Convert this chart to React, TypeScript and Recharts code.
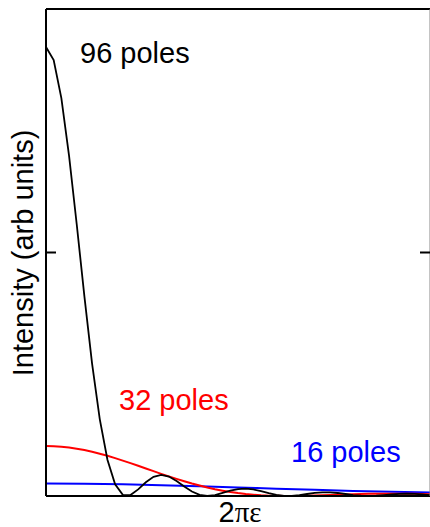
import React from 'react';
import { LineChart, Line, XAxis, YAxis } from 'recharts';

// sample positions along 2πε (arbitrary units, 0..100 across the plot)
const fineX = [
  0, 2, 4, 6, 8, 10, 12, 14, 16, 18, 20, 22, 24, 26, 28, 30, 32, 34, 36, 38, 40,
  42, 44, 46, 48, 50, 52, 54, 56, 58, 60, 62, 64, 66, 68, 70, 72, 74, 76, 78, 80,
  82, 84, 86, 88, 90, 92, 94, 96, 98, 100,
];
const coarseX = [0, 10, 20, 30, 40, 50, 60, 70, 80, 90, 100];

const poles96 = [
  0.922, 0.895, 0.817, 0.699, 0.558, 0.41, 0.272, 0.158, 0.0745, 0.0239, 0.0023,
  0.0019, 0.0135, 0.0282, 0.0394, 0.0435, 0.04, 0.0309, 0.0194, 0.0091, 0.0022,
  0.0, 0.0018, 0.0062, 0.0109, 0.0143, 0.0151, 0.0134, 0.0099, 0.0057, 0.0022,
  0.0002, 0.0002, 0.0018, 0.0041, 0.0063, 0.0076, 0.0075, 0.0062, 0.0041, 0.002,
  0.0005, 0.0, 0.0005, 0.0017, 0.0031, 0.0042, 0.0046, 0.0043, 0.0032, 0.0019,
];
const poles32 = [
  0.1025, 0.1022, 0.1012, 0.0995, 0.0972, 0.0943, 0.0908, 0.0869, 0.0825, 0.0778,
  0.0727, 0.0674, 0.062, 0.0565, 0.051, 0.0455, 0.0402, 0.0351, 0.0302, 0.0256,
  0.0214, 0.0175, 0.014, 0.011, 0.0083, 0.006, 0.0041, 0.0027, 0.0015, 0.0007,
  0.0003, 0.0001, 0.0001, 0.0002, 0.0005, 0.001, 0.0015, 0.0021, 0.0026, 0.0031,
  0.0036, 0.004, 0.0044, 0.0046, 0.0048, 0.0048, 0.0048, 0.0047, 0.0044, 0.0042,
  0.0038,
];
const poles16 = [
  0.0256, 0.0252, 0.024, 0.0222, 0.02, 0.0176, 0.0151, 0.0127, 0.0105, 0.0086, 0.007,
];

const yTicks = [0.5];

const toPoints = (xs: number[], ys: number[]) => xs.map((x, i) => ({ x, y: ys[i] }));

const sans = '"Liberation Sans", Arial, Helvetica, sans-serif';
const serif = '"Liberation Serif", "Times New Roman", serif';

export default function App() {
  const black = toPoints(fineX, poles96);
  const red = toPoints(fineX, poles32);
  const blue = toPoints(coarseX, poles16);

  return (
    <div style={{ position: 'absolute', left: 0, top: 0, width: 430, height: 527, background: '#fff' }}>
      <LineChart width={430} height={527} data={black} margin={{ top: 8, right: 0, bottom: 30, left: 46 }}>
        <XAxis
          dataKey="x"
          type="number"
          domain={[0, 100]}
          ticks={[50]}
          tick={false}
          tickLine={false}
          height={1}
          axisLine={{ stroke: '#000', strokeWidth: 2 }}
        />
        <XAxis
          xAxisId="top"
          orientation="top"
          dataKey="x"
          type="number"
          domain={[0, 100]}
          ticks={[50]}
          tick={false}
          tickLine={false}
          height={1}
          axisLine={{ stroke: '#000', strokeWidth: 2 }}
        />
        <YAxis
          type="number"
          domain={[0, 1]}
          allowDataOverflow
          ticks={yTicks}
          mirror
          width={1}
          tickSize={10}
          tickFormatter={() => ''}
          tickLine={{ stroke: '#000', strokeWidth: 2 }}
          axisLine={{ stroke: '#000', strokeWidth: 2 }}
        />
        <YAxis
          yAxisId="right"
          orientation="right"
          type="number"
          domain={[0, 1]}
          allowDataOverflow
          ticks={yTicks}
          mirror
          width={1}
          tickSize={10}
          tickFormatter={() => ''}
          tickLine={{ stroke: '#000', strokeWidth: 2 }}
          axisLine={{ stroke: '#888', strokeWidth: 1 }}
        />
        <Line data={blue} yAxisId="right" dataKey="y" type="monotone" stroke="#0000ff" strokeWidth={2} dot={false} isAnimationActive={false} />
        <Line data={red} dataKey="y" type="linear" stroke="#ff0000" strokeWidth={2} dot={false} isAnimationActive={false} />
        <Line data={black} dataKey="y" type="linear" stroke="#000" strokeWidth={1.8} dot={false} isAnimationActive={false} />

        <text x={80} y={63} fontFamily={sans} fontSize={29} fill="#000">96 poles</text>
        <text x={119} y={410} fontFamily={sans} fontSize={29} fill="#ff0000">32 poles</text>
        <text x={291} y={462} fontFamily={sans} fontSize={29} fill="#0000ff">16 poles</text>
        <text x={240} y={522} textAnchor="middle" fontSize={29} fill="#000">
          <tspan fontFamily={sans}>2</tspan>
          <tspan fontFamily={serif}>πε</tspan>
        </text>
        <text
          x={33}
          y={253}
          transform="rotate(-90 33 253)"
          textAnchor="middle"
          fontFamily={sans}
          fontSize={29}
          fill="#000"
        >
          Intensity (arb units)
        </text>
      </LineChart>
    </div>
  );
}
